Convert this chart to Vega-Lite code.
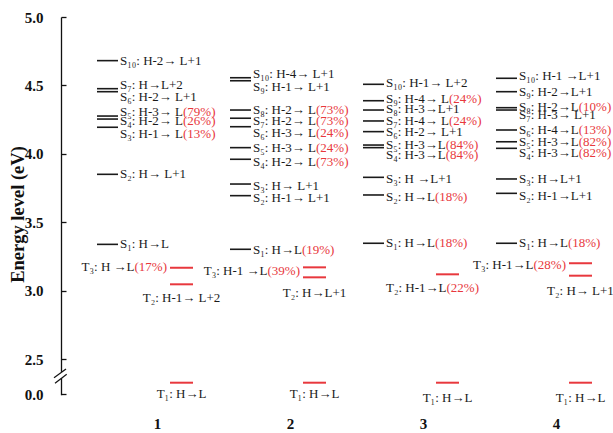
{
  "$schema": "https://vega.github.io/schema/vega-lite/v6.json",
  "width": 552,
  "height": 378,
  "autosize": {"type": "none"},
  "padding": {"left": 61, "top": 17, "right": 0, "bottom": 38},
  "background": "white",
  "config": {"view": {"stroke": null}, "text": {"font": "Liberation Serif", "fontSize": 13, "baseline": "middle"}},
  "datasets": {
    "lev": [
      {"mol": 1, "kind": "S", "e": 4.681, "ly": 4.681, "full": "S₁₀: H-2→ L+1", "pre": "S₁₀: H-2→ L+1", "pct": "", "pos": "right"},
      {"mol": 1, "kind": "S", "e": 4.476, "ly": 4.503, "full": "S₇: H→L+2", "pre": "S₇: H→L+2", "pct": "", "pos": "right"},
      {"mol": 1, "kind": "S", "e": 4.454, "ly": 4.415, "full": "S₆: H-2→ L+1", "pre": "S₆: H-2→ L+1", "pct": "", "pos": "right"},
      {"mol": 1, "kind": "S", "e": 4.276, "ly": 4.308, "full": "S₅: H-3→ L(79%)", "pre": "S₅: H-3→ L", "pct": "(79%)", "pos": "right"},
      {"mol": 1, "kind": "S", "e": 4.254, "ly": 4.240, "full": "S₄: H-2→ L(26%)", "pre": "S₄: H-2→ L", "pct": "(26%)", "pos": "right"},
      {"mol": 1, "kind": "S", "e": 4.194, "ly": 4.143, "full": "S₃: H-1→ L(13%)", "pre": "S₃: H-1→ L", "pct": "(13%)", "pos": "right"},
      {"mol": 1, "kind": "S", "e": 3.850, "ly": 3.850, "full": "S₂: H→ L+1", "pre": "S₂: H→ L+1", "pct": "", "pos": "right"},
      {"mol": 1, "kind": "S", "e": 3.338, "ly": 3.338, "full": "S₁: H→L", "pre": "S₁: H→L", "pct": "", "pos": "right"},
      {"mol": 1, "kind": "T", "e": 3.167, "ly": 3.172, "full": "T₃: H →L(17%)", "pre": "T₃: H →L", "pct": "(17%)", "pos": "left"},
      {"mol": 1, "kind": "T", "e": 3.046, "ly": 2.948, "full": "T₂: H-1→ L+2", "pre": "T₂: H-1→ L+2", "pct": "", "pos": "below"},
      {"mol": 1, "kind": "T", "e": 0.807, "ly": 0.0, "full": "T₁: H→L", "pre": "T₁: H→L", "pct": "", "pos": "below"},

      {"mol": 2, "kind": "S", "e": 4.556, "ly": 4.583, "full": "S₁₀: H-4→ L+1", "pre": "S₁₀: H-4→ L+1", "pct": "", "pos": "right"},
      {"mol": 2, "kind": "S", "e": 4.534, "ly": 4.486, "full": "S₉: H-1→ L+1", "pre": "S₉: H-1→ L+1", "pct": "", "pos": "right"},
      {"mol": 2, "kind": "S", "e": 4.320, "ly": 4.320, "full": "S₈: H-2→ L(73%)", "pre": "S₈: H-2→ L", "pct": "(73%)", "pos": "right"},
      {"mol": 2, "kind": "S", "e": 4.260, "ly": 4.242, "full": "S₇: H-2→ L(73%)", "pre": "S₇: H-2→ L", "pct": "(73%)", "pos": "right"},
      {"mol": 2, "kind": "S", "e": 4.198, "ly": 4.154, "full": "S₆: H-3→ L(24%)", "pre": "S₆: H-3→ L", "pct": "(24%)", "pos": "right"},
      {"mol": 2, "kind": "S", "e": 4.045, "ly": 4.040, "full": "S₅: H-3→ L(24%)", "pre": "S₅: H-3→ L", "pct": "(24%)", "pos": "right"},
      {"mol": 2, "kind": "S", "e": 3.960, "ly": 3.938, "full": "S₄: H-2→ L(73%)", "pre": "S₄: H-2→ L", "pct": "(73%)", "pos": "right"},
      {"mol": 2, "kind": "S", "e": 3.779, "ly": 3.765, "full": "S₃: H→ L+1", "pre": "S₃: H→ L+1", "pct": "", "pos": "right"},
      {"mol": 2, "kind": "S", "e": 3.694, "ly": 3.679, "full": "S₂: H-1→ L+1", "pre": "S₂: H-1→ L+1", "pct": "", "pos": "right"},
      {"mol": 2, "kind": "S", "e": 3.302, "ly": 3.297, "full": "S₁: H→L(19%)", "pre": "S₁: H→L", "pct": "(19%)", "pos": "right"},
      {"mol": 2, "kind": "T", "e": 3.170, "ly": 3.143, "full": "T₃: H-1 →L(39%)", "pre": "T₃: H-1 →L", "pct": "(39%)", "pos": "left"},
      {"mol": 2, "kind": "T", "e": 3.097, "ly": 2.985, "full": "T₂: H→L+1", "pre": "T₂: H→L+1", "pct": "", "pos": "below"},
      {"mol": 2, "kind": "T", "e": 0.807, "ly": 0.0, "full": "T₁: H→L", "pre": "T₁: H→L", "pct": "", "pos": "below"},

      {"mol": 3, "kind": "S", "e": 4.508, "ly": 4.515, "full": "S₁₀: H-1→ L+2", "pre": "S₁₀: H-1→ L+2", "pct": "", "pos": "right"},
      {"mol": 3, "kind": "S", "e": 4.388, "ly": 4.398, "full": "S₉: H-4→ L(24%)", "pre": "S₉: H-4→ L", "pct": "(24%)", "pos": "right"},
      {"mol": 3, "kind": "S", "e": 4.320, "ly": 4.325, "full": "S₈: H-3→L+1", "pre": "S₈: H-3→L+1", "pct": "", "pos": "right"},
      {"mol": 3, "kind": "S", "e": 4.240, "ly": 4.240, "full": "S₇: H-4→ L(24%)", "pre": "S₇: H-4→ L", "pct": "(24%)", "pos": "right"},
      {"mol": 3, "kind": "S", "e": 4.162, "ly": 4.157, "full": "S₆: H-2→ L+1", "pre": "S₆: H-2→ L+1", "pct": "", "pos": "right"},
      {"mol": 3, "kind": "S", "e": 4.064, "ly": 4.064, "full": "S₅: H-3→L(84%)", "pre": "S₅: H-3→L", "pct": "(84%)", "pos": "right"},
      {"mol": 3, "kind": "S", "e": 4.045, "ly": 3.991, "full": "S₄: H-3→L(84%)", "pre": "S₄: H-3→L", "pct": "(84%)", "pos": "right"},
      {"mol": 3, "kind": "S", "e": 3.828, "ly": 3.816, "full": "S₃: H →L+1", "pre": "S₃: H →L+1", "pct": "", "pos": "right"},
      {"mol": 3, "kind": "S", "e": 3.699, "ly": 3.686, "full": "S₂: H→L(18%)", "pre": "S₂: H→L", "pct": "(18%)", "pos": "right"},
      {"mol": 3, "kind": "S", "e": 3.346, "ly": 3.346, "full": "S₁: H→L(18%)", "pre": "S₁: H→L", "pct": "(18%)", "pos": "right"},
      {"mol": 3, "kind": "T", "e": 3.119, "ly": 3.021, "full": "T₂: H-1→L(22%)", "pre": "T₂: H-1→L", "pct": "(22%)", "pos": "belowL"},
      {"mol": 3, "kind": "T", "e": 0.807, "ly": -0.29, "full": "T₁: H→L", "pre": "T₁: H→L", "pct": "", "pos": "below"},

      {"mol": 4, "kind": "S", "e": 4.552, "ly": 4.571, "full": "S₁₀: H-1 →L+1", "pre": "S₁₀: H-1 →L+1", "pct": "", "pos": "right"},
      {"mol": 4, "kind": "S", "e": 4.454, "ly": 4.454, "full": "S₉: H-2→L+1", "pre": "S₉: H-2→L+1", "pct": "", "pos": "right"},
      {"mol": 4, "kind": "S", "e": 4.337, "ly": 4.344, "full": "S₈: H-2→L(10%)", "pre": "S₈: H-2→L", "pct": "(10%)", "pos": "right"},
      {"mol": 4, "kind": "S", "e": 4.320, "ly": 4.284, "full": "S₇: H-3→ L+1", "pre": "S₇: H-3→ L+1", "pct": "", "pos": "right"},
      {"mol": 4, "kind": "S", "e": 4.174, "ly": 4.174, "full": "S₆: H-4→L(13%)", "pre": "S₆: H-4→L", "pct": "(13%)", "pos": "right"},
      {"mol": 4, "kind": "S", "e": 4.088, "ly": 4.088, "full": "S₅: H-3→L(82%)", "pre": "S₅: H-3→L", "pct": "(82%)", "pos": "right"},
      {"mol": 4, "kind": "S", "e": 4.040, "ly": 4.004, "full": "S₄: H-3→L(82%)", "pre": "S₄: H-3→L", "pct": "(82%)", "pos": "right"},
      {"mol": 4, "kind": "S", "e": 3.816, "ly": 3.816, "full": "S₃: H→L+1", "pre": "S₃: H→L+1", "pct": "", "pos": "right"},
      {"mol": 4, "kind": "S", "e": 3.711, "ly": 3.694, "full": "S₂: H-1→L+1", "pre": "S₂: H-1→L+1", "pct": "", "pos": "right"},
      {"mol": 4, "kind": "S", "e": 3.346, "ly": 3.346, "full": "S₁: H→L(18%)", "pre": "S₁: H→L", "pct": "(18%)", "pos": "right"},
      {"mol": 4, "kind": "T", "e": 3.200, "ly": 3.187, "full": "T₃: H-1→L(28%)", "pre": "T₃: H-1→L", "pct": "(28%)", "pos": "left"},
      {"mol": 4, "kind": "T", "e": 3.109, "ly": 2.997, "full": "T₂: H→ L+1", "pre": "T₂: H→ L+1", "pct": "", "pos": "below"},
      {"mol": 4, "kind": "T", "e": 0.807, "ly": -0.29, "full": "T₁: H→L", "pre": "T₁: H→L", "pct": "", "pos": "below"}
    ],
    "gap": [{"bx": 0.2782, "by": 1.13, "by2": 1.58}],
    "slash": [
      {"bx": 0.2256, "by": 1.164, "bx2": 0.3158, "by2": 1.786},
      {"bx": 0.2331, "by": 0.764, "bx2": 0.3211, "by2": 1.407}
    ]
  },
  "layer": [
    {
      "data": {"name": "lev"},
      "transform": [{"filter": "datum.kind == 'S'"}],
      "mark": {"type": "rule", "stroke": "#1a1a1a", "strokeWidth": 1.6, "xOffset": -60, "x2Offset": -39},
      "encoding": {
        "x": {"field": "mol", "type": "quantitative",
              "scale": {"domain": [0.2782, 4.4286], "nice": false, "zero": false},
              "axis": {"values": [1, 2, 3, 4], "format": "d", "title": null, "domain": false, "ticks": false, "grid": false,
                       "labelFont": "Liberation Serif", "labelFontSize": 15, "labelFontWeight": "bold", "labelColor": "#111", "labelPadding": 21}},
        "x2": {"field": "mol"},
        "y": {"field": "e", "type": "quantitative",
              "scale": {"domain": [-0.05, 2.5, 5.0], "range": [377.7, 342, 0], "nice": false, "zero": false},
              "axis": {"values": [0, 0.5, 2.5, 2.75, 3, 3.25, 3.5, 3.75, 4, 4.25, 4.5, 4.75, 5],
                       "labelExpr": "datum.value == 0.5 || (datum.value * 4) % 2 == 1 ? '' : format(datum.value, '.1f')",
                       "tickSize": -5,
                       "encode": {"ticks": {"update": {"x2": {"signal": "datum.value == 0.5 || (datum.value * 4) % 2 == 1 ? 4 : 5.5"}}}},
                       "grid": false, "domainColor": "#111", "tickColor": "#111", "domainWidth": 1.3, "tickWidth": 1.3,
                       "labelFont": "Liberation Serif", "labelFontSize": 15, "labelFontWeight": "bold", "labelColor": "#111", "labelPadding": 23,
                       "title": "Energy level (eV)", "titleFont": "Liberation Serif", "titleFontSize": 18.5, "titleFontWeight": "bold", "titleColor": "#111",
                       "titleX": -44, "titleY": 197, "titleBaseline": "middle", "titleAlign": "center", "titleAngle": 270}}
      }
    },
    {
      "data": {"name": "lev"},
      "transform": [{"filter": "datum.kind == 'T'"}],
      "mark": {"type": "rule", "stroke": "#e8383d", "strokeWidth": 2, "xOffset": 13, "x2Offset": 36},
      "encoding": {
        "x": {"field": "mol", "type": "quantitative"},
        "x2": {"field": "mol"},
        "y": {"field": "e", "type": "quantitative"}
      }
    },
    {
      "data": {"name": "lev"},
      "transform": [{"filter": "(datum.pos == 'right' || datum.pos == 'belowL') && datum.pct != ''"}],
      "mark": {"type": "text", "align": "left", "fill": "#e8383d"},
      "encoding": {
        "x": {"field": "mol", "type": "quantitative"},
        "y": {"field": "ly", "type": "quantitative"},
        "text": {"field": "full"},
        "xOffset": {"condition": {"test": "datum.pos == 'belowL'", "value": -23}, "value": -37}
      }
    },
    {
      "data": {"name": "lev"},
      "transform": [{"filter": "(datum.pos == 'right' || datum.pos == 'belowL') && datum.pct != ''"}],
      "mark": {"type": "text", "align": "left", "fill": "white", "stroke": "white", "strokeWidth": 1.4},
      "encoding": {
        "x": {"field": "mol", "type": "quantitative"},
        "y": {"field": "ly", "type": "quantitative"},
        "text": {"field": "pre"},
        "xOffset": {"condition": {"test": "datum.pos == 'belowL'", "value": -23}, "value": -37}
      }
    },
    {
      "data": {"name": "lev"},
      "transform": [{"filter": "datum.pos == 'right' || datum.pos == 'belowL'"}],
      "mark": {"type": "text", "align": "left", "fill": "#1a1a1a"},
      "encoding": {
        "x": {"field": "mol", "type": "quantitative"},
        "y": {"field": "ly", "type": "quantitative"},
        "text": {"field": "pre"},
        "xOffset": {"condition": {"test": "datum.pos == 'belowL'", "value": -23}, "value": -37}
      }
    },
    {
      "data": {"name": "lev"},
      "transform": [{"filter": "datum.pos == 'left'"}],
      "mark": {"type": "text", "align": "right", "dx": -22.5, "fill": "#1a1a1a"},
      "encoding": {
        "x": {"field": "mol", "type": "quantitative"},
        "y": {"field": "ly", "type": "quantitative"},
        "text": {"field": "pre"}
      }
    },
    {
      "data": {"name": "lev"},
      "transform": [{"filter": "datum.pos == 'left'"}],
      "mark": {"type": "text", "align": "right", "dx": 10, "fill": "#e8383d"},
      "encoding": {
        "x": {"field": "mol", "type": "quantitative"},
        "y": {"field": "ly", "type": "quantitative"},
        "text": {"field": "pct"}
      }
    },
    {
      "data": {"name": "lev"},
      "transform": [{"filter": "datum.pos == 'below'"}],
      "mark": {"type": "text", "align": "center", "dx": 24.5, "fill": "#1a1a1a"},
      "encoding": {
        "x": {"field": "mol", "type": "quantitative"},
        "y": {"field": "ly", "type": "quantitative"},
        "text": {"field": "full"}
      }
    },
    {
      "data": {"name": "gap"},
      "mark": {"type": "rule", "stroke": "white", "strokeWidth": 4},
      "encoding": {
        "x": {"field": "bx", "type": "quantitative"},
        "y": {"field": "by", "type": "quantitative"},
        "y2": {"field": "by2"}
      }
    },
    {
      "data": {"name": "slash"},
      "mark": {"type": "rule", "stroke": "#111", "strokeWidth": 1.2},
      "encoding": {
        "x": {"field": "bx", "type": "quantitative"},
        "x2": {"field": "bx2"},
        "y": {"field": "by", "type": "quantitative"},
        "y2": {"field": "by2"}
      }
    }
  ]
}
